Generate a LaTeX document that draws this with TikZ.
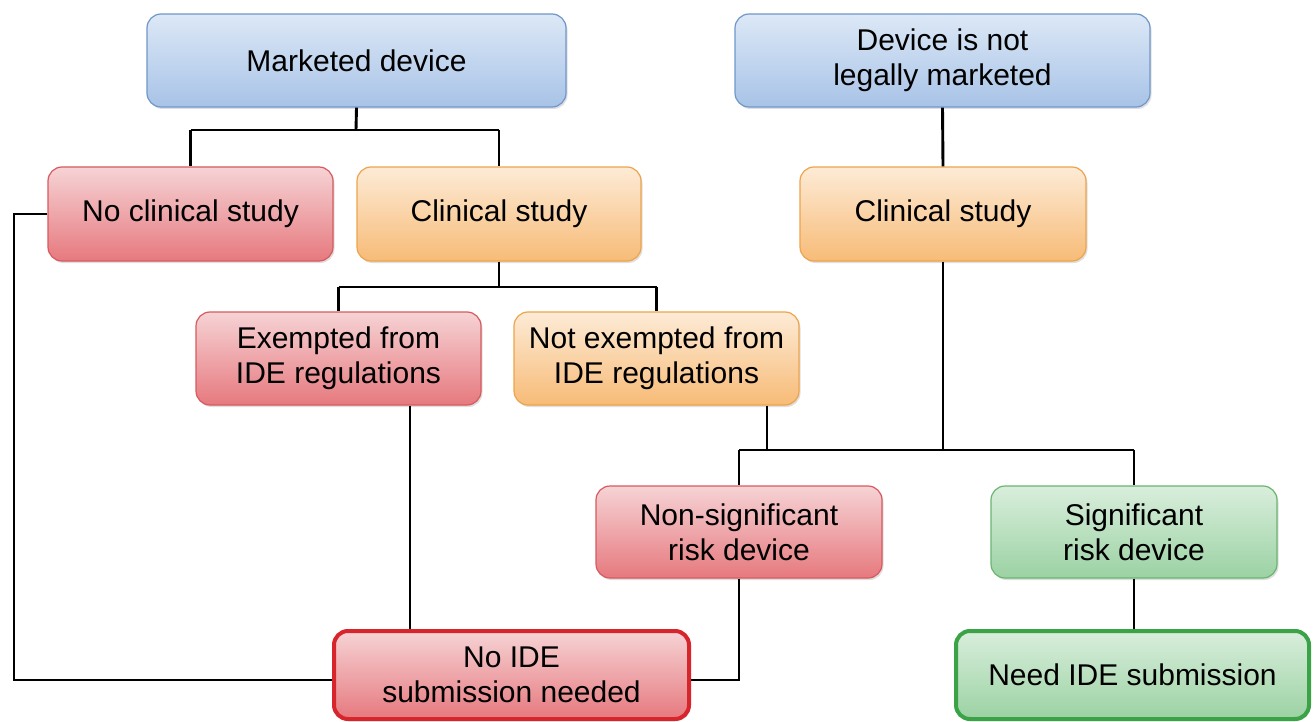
\documentclass[tikz,border=0pt]{standalone}
\usepackage{fontspec}
\setmainfont{Liberation Sans}
\usetikzlibrary{shadows,calc}
\definecolor{bluetop}{HTML}{DCE8F6}
\definecolor{bluebot}{HTML}{A8C3E7}
\definecolor{blueedge}{HTML}{6F97C9}
\definecolor{redtop}{HTML}{F6D3D5}
\definecolor{redbot}{HTML}{E6797E}
\definecolor{rededge}{HTML}{D65A5F}
\definecolor{orangetop}{HTML}{FDEBD6}
\definecolor{orangebot}{HTML}{F7BB77}
\definecolor{orangeedge}{HTML}{EDA44C}
\definecolor{greentop}{HTML}{D9EEDC}
\definecolor{greenbot}{HTML}{9BD2A3}
\definecolor{greenedge}{HTML}{6AB570}
\definecolor{strongred}{HTML}{D8252B}
\definecolor{stronggreen}{HTML}{39A346}
\tikzset{
  box/.style={rounded corners=14pt, line width=1.2pt, align=center,
    font=\fontsize{30}{35}\selectfont, text=black,
    drop shadow={opacity=0.25, shadow xshift=1.5pt, shadow yshift=-2pt}},
  bluebox/.style={box, draw=blueedge, top color=bluetop, bottom color=bluebot},
  redbox/.style={box, draw=rededge, top color=redtop, bottom color=redbot},
  orangebox/.style={box, draw=orangeedge, top color=orangetop, bottom color=orangebot},
  greenbox/.style={box, draw=greenedge, top color=greentop, bottom color=greenbot},
  conn/.style={line width=2.9pt, black},
}
\begin{document}
\begin{tikzpicture}[x=1pt,y=-1pt]
\useasboundingbox (0,0) rectangle (1314,722);
% boxes
\node[bluebox, minimum width=419pt, minimum height=93pt] (md) at (356.5,60.5) {Marketed device};
\node[bluebox, minimum width=415pt, minimum height=93pt] (nlm) at (942.5,60.5) {Device is not\\legally marketed};
\node[redbox, minimum width=285pt, minimum height=94pt] (ncs) at (190.5,214) {No clinical study};
\node[orangebox, minimum width=284pt, minimum height=94pt] (cs1) at (499,214) {Clinical study};
\node[orangebox, minimum width=286pt, minimum height=94pt] (cs2) at (943,214) {Clinical study};
\node[redbox, minimum width=285pt, minimum height=93pt] (ex) at (338.5,358.5) {Exempted from\\IDE regulations};
\node[orangebox, minimum width=285pt, minimum height=93pt] (nex) at (656.5,358.5) {Not exempted from\\IDE regulations};
\node[redbox, minimum width=286pt, minimum height=92pt] (nsr) at (739,532) {Non-significant\\risk device};
\node[greenbox, minimum width=286pt, minimum height=92pt] (sr) at (1134,532) {Significant\\risk device};
\node[redbox, draw=strongred, line width=4pt, minimum width=355pt, minimum height=88pt] (noide) at (511.5,675) {No IDE\\submission needed};
\node[greenbox, draw=stronggreen, line width=4pt, minimum width=353pt, minimum height=88pt] (need) at (1132.5,675) {Need IDE submission};
% junction coordinates
\coordinate (j1) at (356,130);
\coordinate (j2) at (499,287);
\coordinate (j3) at (943,450);
\coordinate (lx) at (14,212);
\coordinate (ex1) at (410,0);
\coordinate (nx1) at (767,0);
\coordinate (ly) at (0,680);
\coordinate (sx) at (1134,0);
% connectors
\draw[conn] (md.south) -- (j1);
\draw[conn] (j1 -| ncs.north) -- (j1 -| cs1.north);
\draw[conn] (j1 -| ncs.north) -- (ncs.north);
\draw[conn] (j1 -| cs1.north) -- (cs1.north);
\draw[conn] (nlm.south) -- (cs2.north);
\draw[conn] (cs1.south) -- (j2);
\draw[conn] (j2 -| ex.north) -- (j2 -| nex.north);
\draw[conn] (j2 -| ex.north) -- (ex.north);
\draw[conn] (j2 -| nex.north) -- (nex.north);
\draw[conn] (cs2.south) -- (j3);
\draw[conn] (nex.south -| nx1) -- (j3 -| nx1);
\draw[conn] (j3 -| nsr.north) -- (j3 -| sr.north);
\draw[conn] (j3 -| nsr.north) -- (nsr.north);
\draw[conn] (j3 -| sr.north) -- (sr.north);
\draw[conn, line join=miter] (ncs.west) -- (ncs.west -| lx) -- (ly -| lx) -- (ly -| noide.west);
\draw[conn] (ex.south -| ex1) -- (noide.north -| ex1);
\draw[conn, line join=miter] (nsr.south) -- (ly -| nsr.south) -- (ly -| noide.east);
\draw[conn] (sr.south -| sx) -- (need.north -| sx);
\end{tikzpicture}
\end{document}
